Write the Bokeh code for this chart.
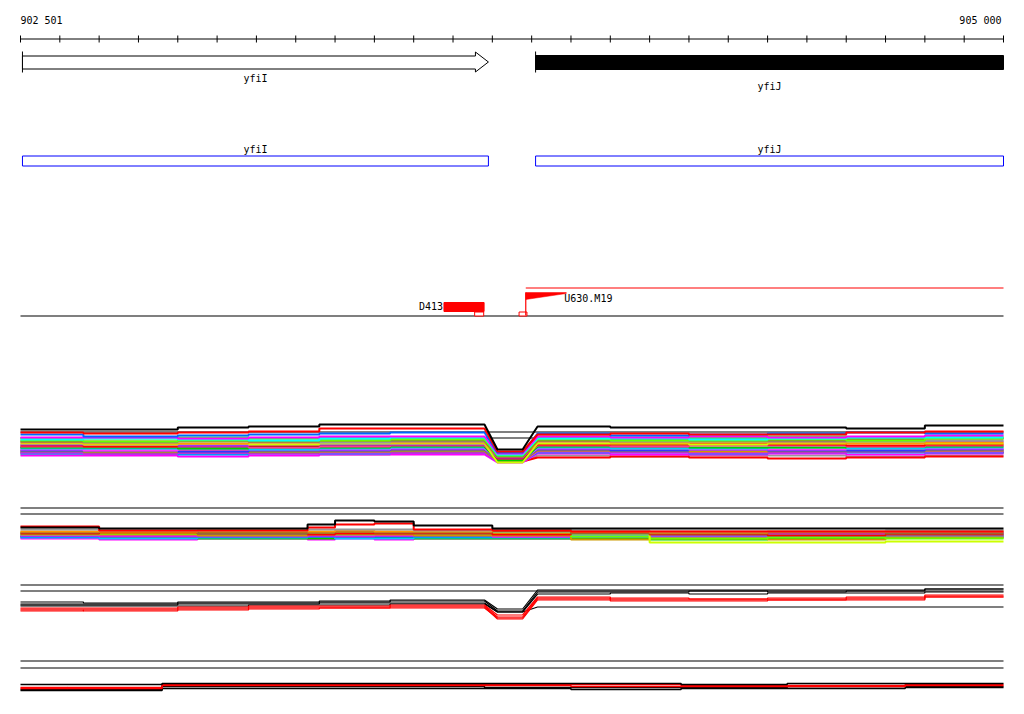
from bokeh.plotting import figure
from bokeh.models import Range1d, ColumnDataSource
from bokeh.embed import file_html
from bokeh.resources import INLINE
from bokeh.core.properties import value

# ---------------- data ----------------
VIEW_START, VIEW_END = 902500, 905000
RULER_LABELS = ["902 501", "905 000"]
TICK_STEP = 100

GENE_NAMES = ["yfiI", "yfiJ"]
GENE_STARTS = [902505, 903810]
GENE_ENDS = [903690, 905000]
GENE_STRANDS = ["+", "-"]

FEATURE_NAMES = ["D413", "U630.M19"]
FEATURE_STARTS = [903577, 903785]
FEATURE_ENDS = [903679, 903888]
PROBE_STARTS = [903655, 903768]
PROBE_ENDS = [903678, 903788]
U630_SPAN_END = 905000

# breakpoints of the tiled segments (bp)
DIP_LEFT = [902500, 902660, 902900, 903080, 903260, 903440, 903680]
DIP_BOTTOM = [903713, 903777]
DIP_RIGHT = [903815, 904000, 904200, 904400, 904600, 904800, 905000]
T5_BOUNDS = [902500, 902700, 902950, 903230, 903300, 903400, 903500,
             903700, 903900, 904100, 904400, 904700, 905000]
T7_BOUNDS = [902500, 902620, 902860, 903100, 903380, 903680, 903900,
             904180, 904450, 904750, 905000]

# track 4: many samples
T4_COLORS = ["#000000", "#999999", "#ff0000", "#ff00ff", "#0099ff", "#ff00ff",
             "#777777", "#cc9900", "#3333ff", "#ff33ff", "#00ccff", "#00cc00",
             "#ff3399", "#ff0000", "#9933ff", "#ccff00", "#ff9900", "#999999",
             "#996633", "#66ff00", "#33ff33", "#00ffff", "#ff00ff", "#0066ff",
             "#ff0000", "#000000"]
T4_LEFT = [
    [1.3, 1.3, 1.3, 1.4, 1.4, 1.4], [0.6, 0.6, 0.7, 0.7, 0.6, 0.7],
    [0.8, 0.7, 0.8, 0.8, 0.9, 0.8], [0.5, 0.5, 0.4, 0.5, 0.6, 0.6],
    [0.7, 0.7, 0.6, 0.7, 0.7, 0.8], [0.8, 0.7, 0.8, 0.7, 0.8, 0.8],
    [0.9, 0.8, 0.9, 0.8, 0.9, 0.9], [1.0, 0.9, 1.0, 0.9, 0.9, 1.0],
    [1.0, 1.0, 0.9, 1.0, 1.0, 1.1], [1.1, 1.0, 1.1, 1.1, 1.1, 1.2],
    [1.2, 1.2, 1.2, 1.1, 1.2, 1.3], [1.3, 1.3, 1.2, 1.3, 1.3, 1.4],
    [1.4, 1.4, 1.4, 1.3, 1.4, 1.5], [1.5, 1.4, 1.5, 1.5, 1.6, 1.6],
    [1.6, 1.6, 1.5, 1.6, 1.6, 1.6], [1.7, 1.6, 1.7, 1.6, 1.7, 1.7],
    [1.8, 1.7, 1.7, 1.8, 1.9, 1.8], [1.9, 1.8, 1.9, 1.9, 1.8, 1.9],
    [1.9, 1.9, 2.0, 1.9, 2.0, 2.0], [2.0, 1.9, 2.0, 2.0, 2.0, 2.1],
    [2.2, 2.2, 2.3, 2.2, 2.2, 2.3], [2.1, 2.2, 2.1, 2.0, 2.2, 2.3],
    [2.3, 2.3, 2.2, 2.3, 2.4, 2.4], [2.6, 2.4, 2.5, 2.6, 2.7, 2.8],
    [2.8, 2.7, 2.8, 2.9, 3.2, 3.2], [3.1, 3.1, 3.3, 3.4, 3.6, 3.6],
]
T4_DIP = [0.2, -0.1, -0.1, -0.2, -0.1, -0.1, 0.0, 0.0, 0.1, 0.1, 0.2, 0.0, 0.3,
          0.2, 0.3, -0.2, 0.4, 0.6, 0.4, 0.5, 0.5, 0.6, 0.7, 0.8, 0.9, 1.1]
T4_RIGHT = [
    [1.2, 1.2, 1.0, 0.9, 0.9, 0.8], [0.5, 0.4, 0.5, 0.5, 0.4, 0.5],
    [0.3, 0.4, 0.3, 0.2, 0.3, 0.4], [0.7, 0.6, 0.6, 0.7, 0.6, 0.7],
    [0.8, 0.8, 0.7, 0.8, 0.8, 0.8], [0.9, 0.8, 0.8, 0.8, 0.9, 0.9],
    [1.0, 0.9, 1.0, 0.9, 0.9, 1.0], [1.0, 1.0, 0.9, 1.0, 1.1, 1.0],
    [1.1, 1.0, 1.1, 1.0, 1.0, 1.1], [1.2, 1.2, 1.1, 1.1, 1.2, 1.2],
    [1.3, 1.2, 1.2, 1.3, 1.2, 1.3], [1.4, 1.4, 1.3, 1.3, 1.4, 1.4],
    [1.5, 1.4, 1.5, 1.5, 1.4, 1.5], [1.6, 1.6, 1.7, 1.6, 1.5, 1.6],
    [1.9, 1.8, 1.9, 2.0, 1.9, 1.9], [1.7, 1.7, 1.6, 1.7, 1.8, 1.7],
    [1.9, 1.8, 1.8, 1.8, 1.7, 1.8], [2.0, 1.9, 1.9, 1.9, 1.9, 2.0],
    [2.0, 2.1, 2.0, 2.0, 2.1, 2.2], [2.1, 2.0, 2.0, 2.1, 2.0, 2.2],
    [2.4, 2.3, 2.3, 2.4, 2.3, 2.4], [2.2, 2.2, 2.1, 2.2, 2.3, 2.3],
    [2.4, 2.3, 2.4, 2.3, 2.4, 2.5], [2.7, 2.5, 2.6, 2.7, 2.8, 2.7],
    [2.6, 2.7, 2.6, 2.6, 2.8, 2.9], [3.4, 3.3, 3.3, 3.3, 3.2, 3.5],
]
T4_REFS = [2.9, 2.3]

# track 5
T5_COLORS = ["#ff3399", "#ff00ff", "#00cc00", "#00ccff", "#0066ff", "#9933ff",
             "#ff00ff", "#00ffff", "#cc9900", "#66ff00", "#ccff00", "#ff0000",
             "#996633", "#ff9900", "#999999", "#ff0000", "#000000"]
T5_VALUES = [
    [0.8, 0.8, 0.8, 0.8, 0.8, 0.8, 0.8, 0.8, 0.9, 0.9, 0.9, 1.0],
    [0.7, 0.6, 0.7, 0.6, 0.7, 0.6, 0.7, 0.7, 0.8, 0.8, 0.7, 0.9],
    [0.9, 0.8, 0.7, 0.7, 0.8, 0.8, 0.7, 0.7, 0.7, 0.6, 0.7, 0.8],
    [0.8, 0.7, 0.8, 0.9, 0.7, 0.7, 0.8, 0.8, 0.9, 1.0, 0.9, 0.9],
    [0.9, 1.0, 0.9, 0.9, 0.9, 0.9, 0.9, 1.0, 1.2, 1.3, 1.2, 1.3],
    [1.0, 0.9, 0.9, 1.0, 0.9, 1.0, 1.0, 0.9, 1.0, 1.0, 1.1, 1.0],
    [1.0, 1.0, 1.1, 1.0, 1.0, 1.0, 1.1, 0.9, 1.1, 1.2, 1.2, 1.2],
    [1.1, 1.2, 1.1, 1.1, 1.1, 1.2, 1.1, 1.2, 1.1, 1.1, 1.0, 1.1],
    [1.1, 1.1, 1.0, 1.1, 1.1, 1.1, 1.0, 1.0, 0.6, 0.7, 0.6, 0.8],
    [1.2, 1.2, 1.3, 1.2, 1.2, 1.2, 1.2, 1.1, 0.9, 0.7, 0.8, 0.7],
    [1.3, 1.3, 1.4, 1.3, 1.3, 1.3, 1.3, 1.2, 1.2, 0.3, 0.3, 0.4],
    [1.2, 1.3, 1.2, 1.1, 1.2, 1.2, 1.2, 1.1, 1.3, 1.1, 1.0, 1.1],
    [1.3, 1.4, 1.2, 1.3, 1.4, 1.3, 1.3, 1.4, 1.2, 1.2, 1.3, 1.2],
    [1.4, 1.4, 1.5, 1.4, 1.5, 1.4, 1.4, 1.6, 1.4, 1.3, 1.4, 1.4],
    [1.6, 1.5, 1.5, 1.6, 1.6, 1.6, 1.5, 1.6, 1.5, 1.4, 1.4, 1.5],
    [1.9, 1.5, 1.5, 1.8, 2.1, 2.2, 1.6, 1.5, 1.4, 1.4, 1.4, 1.4],
    [1.8, 1.7, 1.7, 2.1, 2.5, 2.4, 2.0, 1.7, 1.7, 1.7, 1.7, 1.7],
]
T5_REFS = [3.8, 3.2]

# track 6
T6_COLORS = ["#000000", "#000000", "#000000", "#000000",
             "#ff0000", "#ff0000", "#ff0000", "#ff0000"]
T6_LEFT = [
    [1.9, 1.8, 1.9, 1.9, 2.0, 2.1], [1.7, 1.7, 1.8, 1.8, 1.9, 2.0],
    [1.6, 1.6, 1.7, 1.7, 1.8, 1.8], [1.5, 1.5, 1.5, 1.6, 1.6, 1.7],
    [1.3, 1.3, 1.4, 1.5, 1.5, 1.6], [1.2, 1.2, 1.3, 1.4, 1.4, 1.5],
    [1.1, 1.0, 1.2, 1.3, 1.3, 1.4], [1.0, 1.1, 1.1, 1.2, 1.3, 1.3],
]
T6_DIP = [1.2, 1.0, 0.9, 0.9, 0.6, 0.4, 0.2, 0.3]
T6_RIGHT = [
    [3.1, 3.1, 3.1, 3.1, 3.1, 3.2], [2.9, 2.9, 3.0, 2.9, 3.0, 3.2],
    [2.7, 2.8, 2.7, 2.8, 2.8, 2.9], [1.4, 1.4, 1.4, 1.4, 1.4, 1.4],
    [2.4, 2.2, 2.2, 2.3, 2.4, 2.6], [2.3, 2.1, 2.1, 2.1, 2.2, 2.4],
    [2.1, 2.0, 2.0, 2.1, 2.1, 2.4], [2.2, 2.3, 2.2, 2.2, 2.3, 2.5],
]
T6_REFS = [3.6, 3.0]

# track 7
T7_COLORS = ["#000000", "#000000", "#ff0000", "#ff0000", "#000000"]
T7_VALUES = [
    [0.5, 0.5, 0.7, 0.7, 0.7, 0.7, 0.6, 0.7, 0.7, 0.8],
    [0.6, 0.6, 0.9, 0.9, 0.9, 0.8, 0.8, 0.8, 0.9, 0.9],
    [0.8, 0.7, 1.0, 1.0, 1.0, 1.0, 0.9, 0.9, 0.9, 1.0],
    [0.7, 0.8, 1.1, 1.1, 1.1, 1.1, 1.1, 1.0, 1.0, 1.1],
    [1.1, 1.1, 1.2, 1.2, 1.2, 1.2, 1.2, 1.1, 1.2, 1.2],
]
T7_REFS = [3.5, 2.8]

# ---------------- layout (screen pixel rows) ----------------
W, H = 1008, 698
LEFT_PX, RIGHT_PX = 20, 1003
PX_PER_BP = (RIGHT_PX - LEFT_PX) / (VIEW_END - VIEW_START)
X0 = VIEW_START - LEFT_PX / PX_PER_BP
X1 = X0 + W / PX_PER_BP
K = 10  # px per signal unit
BASE4, BASE5, BASE6, BASE7 = 460, 545, 620, 695
FONT = value("DejaVu Sans Mono")
FS = "10px"
HEAD_BP = 33

p = figure(width=W, height=H, output_backend="svg", toolbar_location=None,
           x_range=Range1d(X0, X1), y_range=Range1d(H, 0),
           min_border=0, outline_line_color=None)
p.axis.visible = False
p.grid.visible = False


def stepline(bounds, vals):
    xs, ys = [], []
    for i, v in enumerate(vals):
        xs.extend([bounds[i], bounds[i + 1]])
        ys.extend([v, v])
    return xs, ys


def dip_line(left, dip, right):
    xl, yl = stepline(DIP_LEFT, left)
    xr, yr = stepline(DIP_RIGHT, right)
    return xl + DIP_BOTTOM + xr, yl + [dip, dip] + yr


def to_px(vals, base):
    return [base - K * v for v in vals]


# ruler
ticks = list(range(VIEW_START, VIEW_END + 1, TICK_STEP))
p.segment(x0=[VIEW_START], x1=[VIEW_END], y0=[38.5], y1=[38.5], line_color="black", line_width=1)
p.segment(x0=ticks, x1=ticks, y0=[35] * len(ticks), y1=[42] * len(ticks),
          line_color="black", line_width=1)
p.text(x=[VIEW_START], y=[20], text=[RULER_LABELS[0]], text_font=FONT, text_font_size=FS,
       text_align="left", text_baseline="middle", text_color="black")
p.text(x=[VIEW_END], y=[20], text=[RULER_LABELS[1]], text_font=FONT, text_font_size=FS,
       text_align="right", text_baseline="middle", text_color="black", x_offset=-2)

# gene track 1
for name, s, e, strand in zip(GENE_NAMES, GENE_STARTS, GENE_ENDS, GENE_STRANDS):
    mid = (s + e) / 2
    p.segment(x0=[s], x1=[s], y0=[51], y1=[72], line_color="black")
    if strand == "+":
        b = e - HEAD_BP
        p.patch(x=[s, b, b, e, b, b, s], y=[55.5, 55.5, 51.5, 61.5, 71.5, 68.5, 68.5],
                fill_color="white", line_color="black", line_width=1)
        p.text(x=[mid], y=[78], text=[name], text_font=FONT, text_font_size=FS,
               text_align="center", text_baseline="middle")
    else:
        p.quad(left=[s], right=[e], top=[55], bottom=[69], fill_color="black", line_color="black")
        p.text(x=[mid], y=[86], text=[name], text_font=FONT, text_font_size=FS,
               text_align="center", text_baseline="middle")

# gene track 2
p.quad(left=GENE_STARTS, right=GENE_ENDS, top=[155.5] * 2, bottom=[165.5] * 2,
       fill_color=None, line_color="#0000ff", line_width=1)
p.text(x=[(s + e) / 2 for s, e in zip(GENE_STARTS, GENE_ENDS)], y=[149] * 2, text=GENE_NAMES,
       text_font=FONT, text_font_size=FS, text_align="center", text_baseline="middle")

# feature track
p.segment(x0=[VIEW_START], x1=[VIEW_END], y0=[315.5], y1=[315.5], line_color="black", line_width=1.2)
p.quad(left=[FEATURE_STARTS[0]], right=[FEATURE_ENDS[0]], top=[302], bottom=[311],
       fill_color="red", line_color="red")
p.quad(left=PROBE_STARTS, right=PROBE_ENDS, top=[311.5] * 2, bottom=[315.5] * 2,
       fill_color="white", line_color="red", line_width=1)
u = FEATURE_STARTS[1]
p.segment(x0=[u], x1=[u], y0=[292], y1=[315], line_color="red", line_width=1.2)
p.segment(x0=[u], x1=[U630_SPAN_END], y0=[287.5], y1=[287.5], line_color="#ff0000", line_width=1.2)
p.patch(x=[u, FEATURE_ENDS[1], FEATURE_ENDS[1], u], y=[292, 292, 293, 299],
        fill_color="red", line_color="red", line_width=0.5)
p.text(x=[FEATURE_STARTS[0]], y=[306], text=[FEATURE_NAMES[0]], text_font=FONT,
       text_font_size=FS, text_align="right", text_baseline="middle", x_offset=-1)
p.text(x=[FEATURE_ENDS[1]], y=[298], text=[FEATURE_NAMES[1]], text_font=FONT,
       text_font_size=FS, text_align="left", text_baseline="middle", x_offset=-2)


def ref_lines(refs, base):
    ys = [y + 0.5 for y in to_px(refs, base)]
    p.segment(x0=[VIEW_START] * len(ys), x1=[VIEW_END] * len(ys), y0=ys, y1=ys,
              line_color="black", line_width=1.2)


# track 4
ref_lines(T4_REFS, BASE4)
xs4, ys4 = [], []
for l, d, r in zip(T4_LEFT, T4_DIP, T4_RIGHT):
    xx, yy = dip_line(l, d, r)
    xs4.append(xx)
    ys4.append(to_px(yy, BASE4))
p.multi_line(xs="xs", ys="ys", line_color="c", line_width=2,
             source=ColumnDataSource(dict(xs=xs4, ys=ys4, c=T4_COLORS)))

# track 5
ref_lines(T5_REFS, BASE5)
xs5, ys5 = [], []
for vals in T5_VALUES:
    xx, yy = stepline(T5_BOUNDS, vals)
    xs5.append(xx)
    ys5.append(to_px(yy, BASE5))
p.multi_line(xs="xs", ys="ys", line_color="c", line_width=2,
             source=ColumnDataSource(dict(xs=xs5, ys=ys5, c=T5_COLORS)))

# track 6
ref_lines(T6_REFS, BASE6)
xs6, ys6 = [], []
for l, d, r in zip(T6_LEFT, T6_DIP, T6_RIGHT):
    xx, yy = dip_line(l, d, r)
    xs6.append(xx)
    ys6.append([y + 0.5 for y in to_px(yy, BASE6)])
p.multi_line(xs="xs", ys="ys", line_color="c", line_width=1.2,
             source=ColumnDataSource(dict(xs=xs6, ys=ys6, c=T6_COLORS)))

# track 7
ref_lines(T7_REFS, BASE7)
xs7, ys7 = [], []
for vals in T7_VALUES:
    xx, yy = stepline(T7_BOUNDS, vals)
    xs7.append(xx)
    ys7.append(to_px(yy, BASE7))
p.multi_line(xs="xs", ys="ys", line_color="c", line_width=1.6,
             source=ColumnDataSource(dict(xs=xs7, ys=ys7, c=T7_COLORS)))

open("out.html", "w").write(file_html(p, INLINE))
